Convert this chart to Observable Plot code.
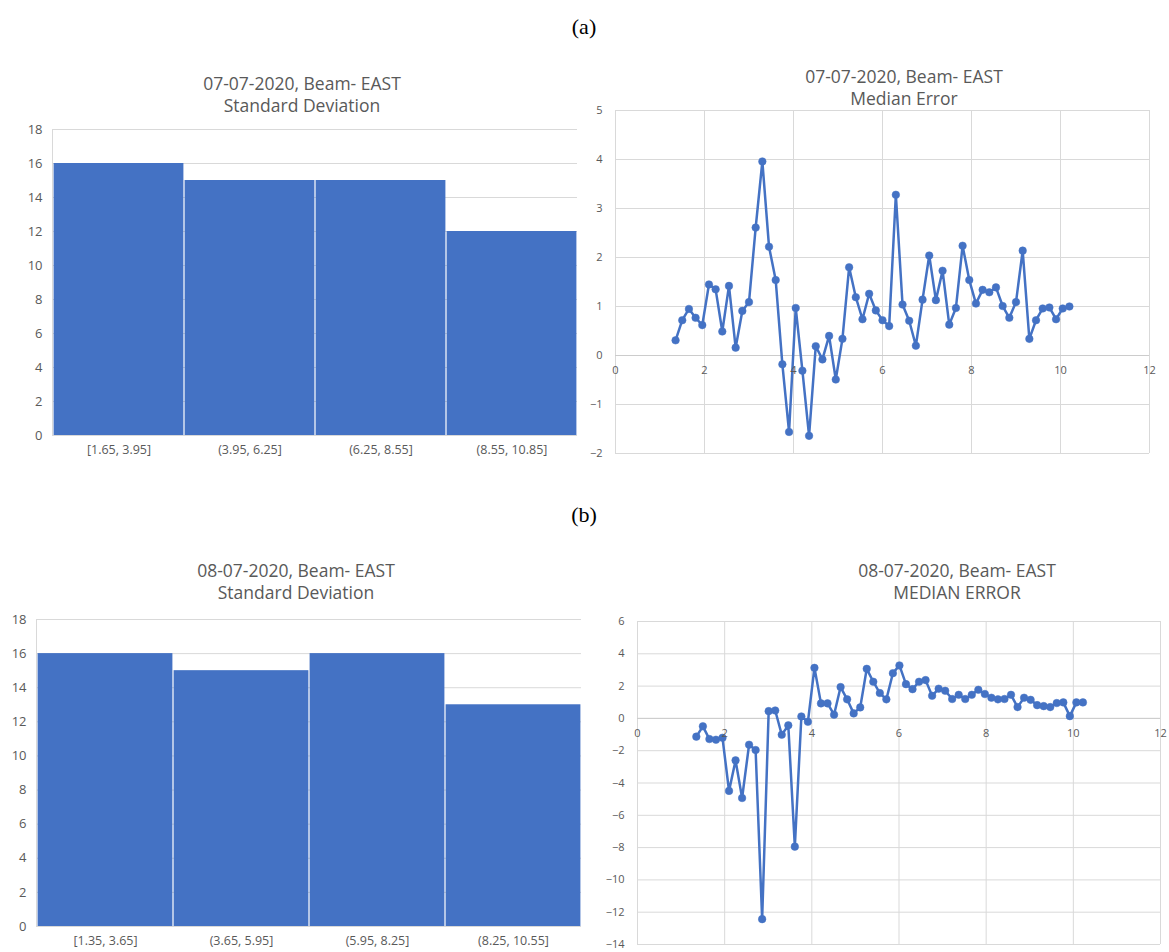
<!DOCTYPE html>
<html>
<head>
<meta charset="utf-8">
<script src="https://cdn.jsdelivr.net/npm/d3@7"></script>
<script src="https://cdn.jsdelivr.net/npm/@observablehq/plot@0.6"></script>
<style>
  html, body { margin: 0; padding: 0; background: #ffffff; }
  #page { position: relative; width: 1169px; height: 952px; background: #ffffff; overflow: hidden; }
  .panel { position: absolute; }
  .title { position: absolute; transform: translateX(-50%); white-space: nowrap; text-align: center;
           font-family: "Open Sans", "Liberation Sans", sans-serif; font-size: 17.5px; line-height: 22px; color: #595959; }
  .tag { position: absolute; transform: translate(-50%, -50%); font-family: "Liberation Serif", "DejaVu Serif", serif;
         font-size: 22px; color: #000; }
</style>
</head>
<body>
<div id="page"></div>
<script>
// ---------- data ----------
const catsA = ["[1.65, 3.95]", "(3.95, 6.25]", "(6.25, 8.55]", "(8.55, 10.85]"];
const stdA = [16, 15, 15, 12];
const catsB = ["[1.35, 3.65]", "(3.65, 5.95]", "(5.95, 8.25]", "(8.25, 10.55]"];
const stdB = [16, 15, 16, 13];

const xA = [1.35,1.50,1.65,1.80,1.95,2.10,2.25,2.40,2.55,2.70,2.85,3.00,3.15,3.30,3.45,3.60,3.75,3.90,4.05,4.20,
            4.35,4.50,4.65,4.80,4.95,5.10,5.25,5.40,5.55,5.70,5.85,6.00,6.15,6.30,6.45,6.60,6.75,6.90,7.05,7.20,
            7.35,7.50,7.65,7.80,7.95,8.10,8.25,8.40,8.55,8.70,8.85,9.00,9.15,9.30,9.45,9.60,9.75,9.90,10.05,10.20];
const medA = [0.31,0.72,0.95,0.77,0.62,1.45,1.35,0.49,1.42,0.16,0.91,1.09,2.61,3.96,2.22,1.54,-0.18,-1.56,0.97,-0.31,
              -1.64,0.19,-0.08,0.40,-0.49,0.34,1.80,1.19,0.74,1.26,0.92,0.72,0.60,3.28,1.04,0.71,0.20,1.14,2.04,1.13,
              1.73,0.63,0.97,2.24,1.54,1.06,1.34,1.29,1.39,1.01,0.77,1.09,2.14,0.34,0.72,0.96,0.98,0.74,0.96,1.00];

const xB = [1.35,1.50,1.65,1.80,1.95,2.10,2.25,2.40,2.56,2.71,2.86,3.01,3.16,3.31,3.46,3.61,3.76,3.91,4.06,4.21,
            4.36,4.51,4.66,4.81,4.96,5.11,5.26,5.41,5.56,5.71,5.86,6.01,6.16,6.31,6.46,6.61,6.76,6.91,7.06,7.22,
            7.37,7.52,7.67,7.82,7.97,8.12,8.27,8.42,8.57,8.72,8.87,9.02,9.17,9.32,9.47,9.62,9.77,9.92,10.07,10.22];
const medB = [-1.13,-0.49,-1.28,-1.32,-1.20,-4.49,-2.60,-4.93,-1.63,-1.96,-12.43,0.45,0.49,-1.01,-0.43,-7.94,0.12,-0.21,3.13,0.93,
              0.93,0.23,1.94,1.18,0.31,0.68,3.07,2.27,1.57,1.18,2.80,3.28,2.12,1.81,2.27,2.37,1.40,1.84,1.71,1.20,
              1.46,1.20,1.46,1.77,1.51,1.28,1.18,1.20,1.46,0.70,1.28,1.15,0.82,0.76,0.70,0.95,0.99,0.14,0.99,0.99];

const barTicks = [0, 2, 4, 6, 8, 10, 12, 14, 16, 18];
const lineXTicks = [0, 2, 4, 6, 8, 10, 12];
const lineYTicksA = [-2, -1, 0, 1, 2, 3, 4, 5];
const lineYTicksB = [-14, -12, -10, -8, -6, -4, -2, 0, 2, 4, 6];

const titles = [
  {lines: ["07-07-2020, Beam- EAST", "Standard Deviation"], x: 302, y: 72},
  {lines: ["07-07-2020, Beam- EAST", "Median Error"], x: 904, y: 65},
  {lines: ["08-07-2020, Beam- EAST", "Standard Deviation"], x: 296, y: 559},
  {lines: ["08-07-2020, Beam- EAST", "MEDIAN ERROR"], x: 957, y: 559}
];
const tags = [{t: "(a)", x: 584, y: 27}, {t: "(b)", x: 584, y: 515}];

// ---------- styles ----------
const BLUE = "#4472C4";
const GRID = "#d9d9d9";
const TXT = "#595959";
const FONT = "'Open Sans', 'Liberation Sans', sans-serif";

const page = document.getElementById("page");

function place(node, left, top) {
  const d = document.createElement("div");
  d.className = "panel";
  d.style.left = left + "px";
  d.style.top = top + "px";
  d.appendChild(node);
  page.appendChild(d);
}

function barChart(cats, vals, opts) {
  const data = cats.map((c, i) => ({cat: c, v: vals[i]}));
  return Plot.plot({
    width: opts.width, height: opts.height,
    marginLeft: opts.ml, marginRight: opts.mr, marginTop: opts.mt, marginBottom: opts.mb,
    style: {fontFamily: FONT, color: TXT, background: "transparent", overflow: "visible"},
    x: {domain: cats, padding: 0, axis: null},
    y: {domain: [0, 18], axis: null},
    marks: [
      Plot.gridY(barTicks, {stroke: GRID, strokeOpacity: 1, strokeWidth: 1}),
      Plot.barY(data, {x: "cat", y: "v", fill: BLUE, insetLeft: 0.6, insetRight: 0.6}),
      Plot.frame({anchor: "left", stroke: GRID, strokeOpacity: 1}),
      Plot.axisY(barTicks, {tickSize: 0, tickPadding: 10, fontSize: 13, fill: TXT, label: null}),
      Plot.axisX(cats, {tickSize: 0, tickPadding: 10, fontSize: 12.5, fill: TXT, label: null})
    ]
  });
}

function lineChart(xs, ys, yDomain, yTicks, opts) {
  const data = xs.map((x, i) => ({x, y: ys[i]}));
  return Plot.plot({
    width: opts.width, height: opts.height,
    marginLeft: opts.ml, marginRight: opts.mr, marginTop: opts.mt, marginBottom: opts.mb,
    style: {fontFamily: FONT, color: TXT, background: "transparent", overflow: "visible"},
    x: {domain: [0, 12], axis: null},
    y: {domain: yDomain, axis: null},
    marks: [
      Plot.gridX(lineXTicks, {stroke: GRID, strokeOpacity: 1, strokeWidth: 1}),
      Plot.gridY(yTicks, {stroke: GRID, strokeOpacity: 1, strokeWidth: 1}),
      Plot.ruleY([0], {stroke: "#cccccc", strokeWidth: 1}),
      Plot.line(data, {x: "x", y: "y", stroke: BLUE, strokeWidth: 2.5}),
      Plot.dot(data, {x: "x", y: "y", r: 3.8, fill: BLUE, stroke: BLUE, strokeWidth: 0.5}),
      Plot.axisY(yTicks, {tickSize: 0, tickPadding: 13, fontSize: 11, fill: TXT, label: null}),
      Plot.text(lineXTicks, {x: d => d, y: () => 0, dy: 15, fontSize: 11, fill: TXT})
    ]
  });
}

place(barChart(catsA, stdA, {width: 600, height: 360, ml: 52, mr: 23, mt: 19, mb: 35}), 0, 110);
place(lineChart(xA, medA, [-2, 5], lineYTicksA, {width: 589, height: 370, ml: 35, mr: 20, mt: 10, mb: 17}), 580, 100);
place(barChart(catsB, stdB, {width: 600, height: 352, ml: 36, mr: 19, mt: 19, mb: 26}), 0, 600);
place(lineChart(xB, medB, [-14, 6], lineYTicksB, {width: 579, height: 342, ml: 47, mr: 9, mt: 11, mb: 8}), 590, 610);

for (const t of titles) {
  const d = document.createElement("div");
  d.className = "title";
  d.style.left = t.x + "px";
  d.style.top = t.y + "px";
  d.innerHTML = t.lines.map(s => `<div>${s}</div>`).join("");
  page.appendChild(d);
}
for (const g of tags) {
  const d = document.createElement("div");
  d.className = "tag";
  d.style.left = g.x + "px";
  d.style.top = g.y + "px";
  d.textContent = g.t;
  page.appendChild(d);
}
</script>
</body>
</html>
